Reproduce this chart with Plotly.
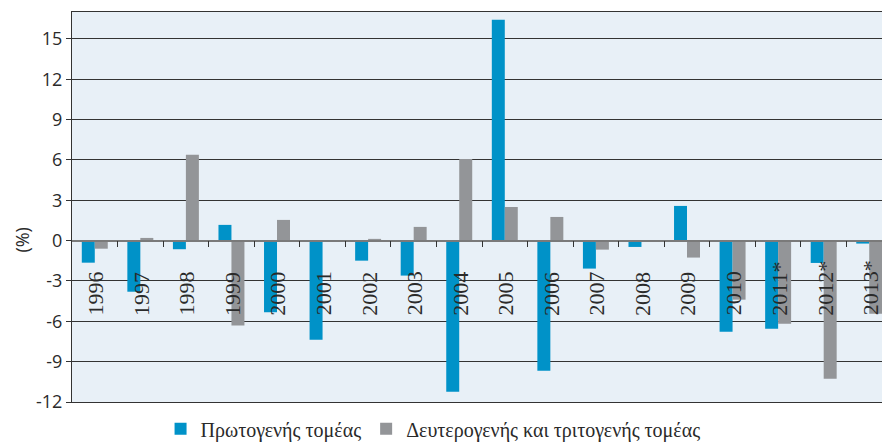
import plotly.graph_objects as go

years = ["1996", "1997", "1998", "1999", "2000", "2001", "2002", "2003", "2004",
         "2005", "2006", "2007", "2008", "2009", "2010", "2011*", "2012*", "2013*"]
primary = [-1.64, -3.8, -0.64, 1.17, -5.33, -7.37, -1.49, -2.6, -11.23,
           16.42, -9.67, -2.08, -0.47, 2.58, -6.77, -6.55, -1.66, -0.22]
secondary = [-0.6, 0.2, 6.38, -6.32, 1.54, -0.05, 0.13, 1.02, 6.06,
             2.5, 1.76, -0.67, -0.05, -1.26, -4.39, -6.18, -10.27, -5.43]
y_ticks = [-12, -9, -6, -3, 0, 3, 6, 9, 12, 15]
series_names = ["Πρωτογενής τομέας", "Δευτερογενής και τριτογενής τομέας"]
y_title = "(%)"

BLUE = "#0092C8"
GRAY = "#939598"
TXT = "#2a2a2a"
idx = list(range(len(years)))
y_min, y_max = -12, 17
x_range = [-0.5, 17.28]

fig = go.Figure()
fig.add_trace(go.Bar(x=idx, y=primary, name=series_names[0], marker_color=BLUE,
                     marker_line_width=0))
fig.add_trace(go.Bar(x=idx, y=secondary, name=series_names[1], marker_color=GRAY,
                     marker_line_width=0))
# invisible trace for zero-line axis
fig.add_trace(go.Scatter(x=[idx[0]], y=[0], xaxis="x2", mode="markers",
                         marker_opacity=0, showlegend=False, hoverinfo="skip"))

for i, lab in enumerate(years):
    fig.add_annotation(x=i, y=0, xref="x", yref="y", text=lab, textangle=-90,
                       showarrow=False, xanchor="center", yanchor="bottom",
                       yshift=-77, xshift=1,
                       font=dict(family="Liberation Serif", size=22, color=TXT))

fig.add_annotation(x=0, y=0, xref="paper", yref="y", text=y_title, textangle=-90,
                   showarrow=False, xanchor="center", yanchor="middle",
                   xshift=-50, yshift=1,
                   font=dict(family="Open Sans", size=18, color=TXT))

fig.update_layout(
    width=882, height=442,
    margin=dict(l=72, r=0, t=12, b=40, autoexpand=False),
    paper_bgcolor="white",
    plot_bgcolor="#E8F0F7",
    barmode="group",
    bargap=0.43,
    bargroupgap=0,
    showlegend=True,
    legend=dict(orientation="h", x=0.491, xanchor="center", xref="container",
                y=0.03, yanchor="middle", yref="container",
                font=dict(family="Liberation Serif", size=20, color=TXT),
                itemwidth=30, tracegroupgap=0),
    xaxis=dict(range=x_range, showticklabels=False, ticks="", showgrid=False,
               zeroline=False, showline=True, linecolor="#333", linewidth=1,
               mirror=True),
    xaxis2=dict(range=x_range, overlaying="x", anchor="free",
                position=(0 - y_min) / (y_max - y_min),
                showticklabels=False, ticks="outside", ticklen=6, tickcolor="#333",
                tickvals=[i + 0.5 for i in idx[:-1]],
                showgrid=False, zeroline=False, showline=True,
                linecolor="#7a7a7a", linewidth=1.5),
    yaxis=dict(range=[y_min, y_max], tickvals=y_ticks,
               ticktext=[str(v) for v in y_ticks],
               ticks="outside", ticklen=5, tickcolor="#333",
               showgrid=True, gridcolor="#333333", gridwidth=1,
               zeroline=False, showline=True, linecolor="#333", linewidth=1,
               mirror=True,
               tickfont=dict(family="Open Sans", size=18, color=TXT)),
)

fig.write_html("out.html",
               config={"displayModeBar": False},
               post_script="document.body.style.margin='0';"
                           "document.body.style.overflow='hidden';")
